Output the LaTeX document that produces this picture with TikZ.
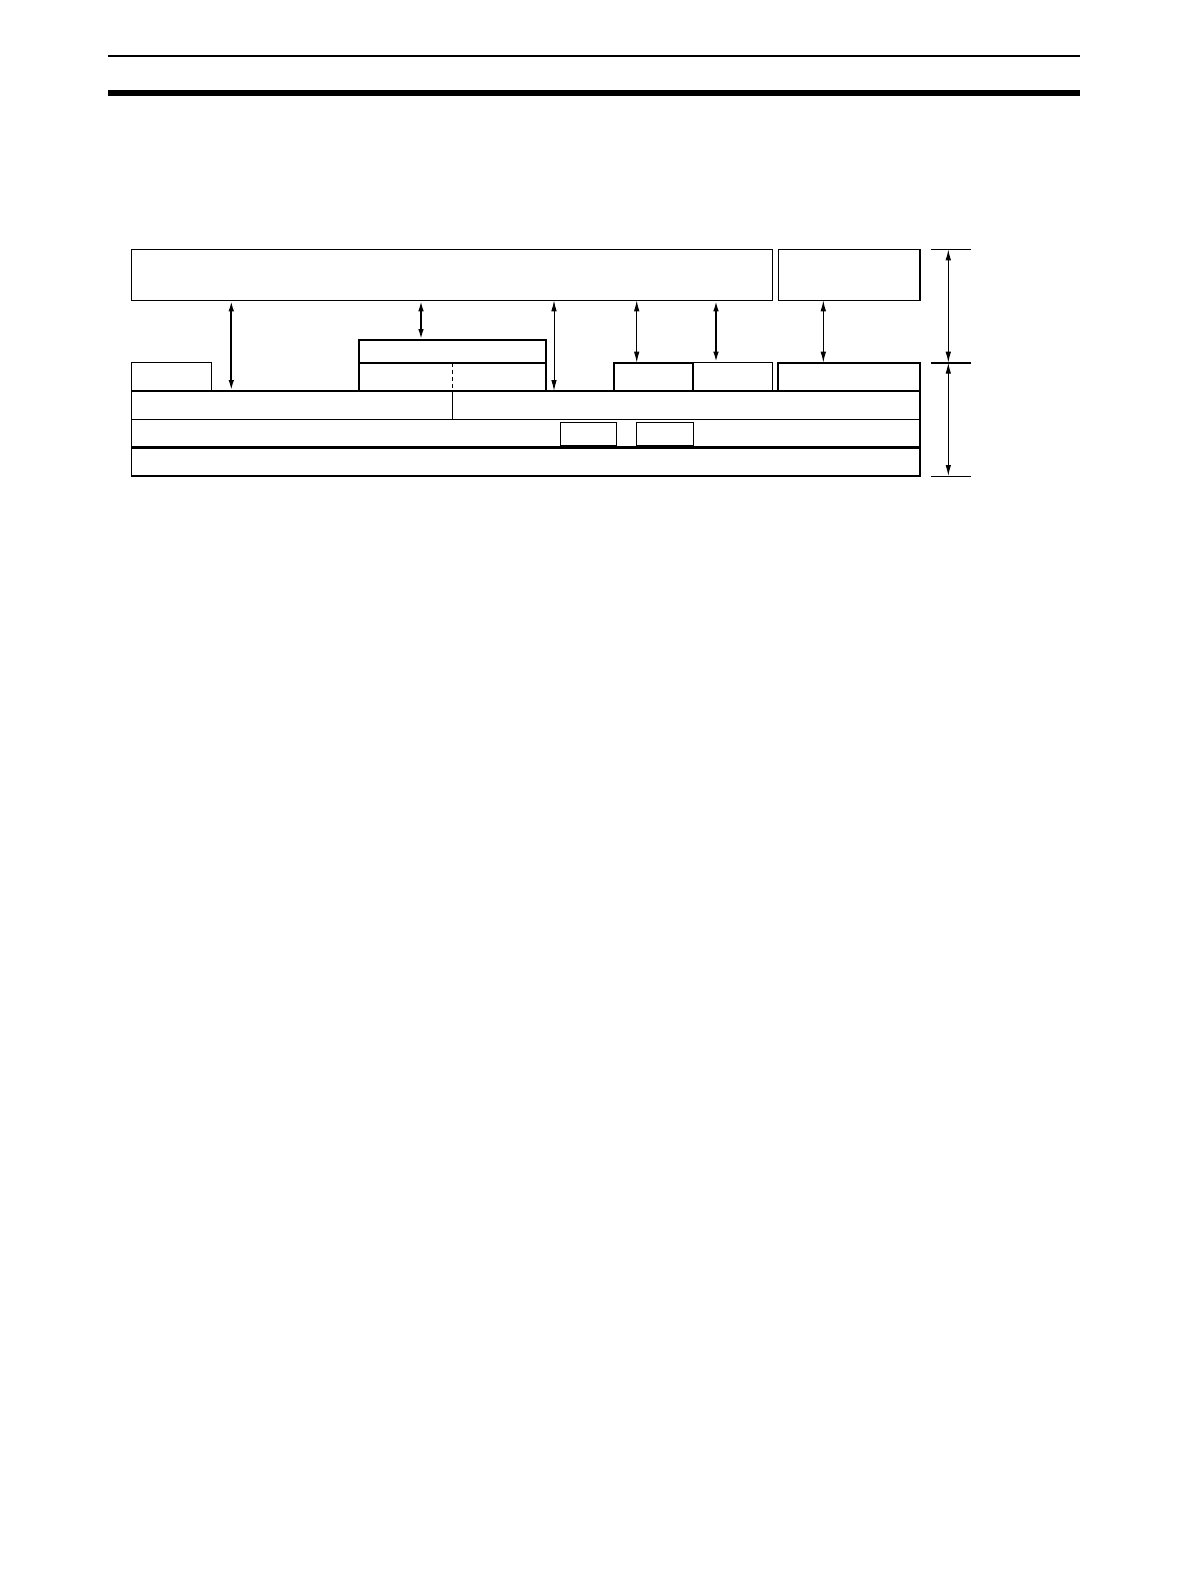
\documentclass[tikz,border=0pt]{standalone}
\usetikzlibrary{arrows.meta}

\tikzset{
	blk/.style={draw, line width=1.5pt, inner sep=0pt, outer sep=0pt, anchor=north west},
	dbl/.style={{Latex[length=11pt,width=5.5pt]}-{Latex[length=11pt,width=5.5pt]}, line width=1pt},
	dblthick/.style={dbl, line width=2pt}
}

\begin{document}
\begin{tikzpicture}[x=1pt, y=-1pt]
			%%%%% START %%%%%
			\useasboundingbox (0, 0) rectangle (1190, 1586);
			
			% page header rules
			\draw[line width=2pt] (107.7, 55.7) -- (1080, 55.7);
			\fill[black] (107.7, 90) rectangle (1080, 96);
			
			% upper blocks
			\node[blk, minimum width=640.6pt, minimum height=51pt] (host) at (131.7, 249.3) {};
			\node[blk, minimum width=141.7pt, minimum height=51pt] (aux) at (778.3, 249.3) {};
			
			% lower blocks
			\node[blk, line width=1.2pt, minimum width=79.6pt, minimum height=28.3pt] (tiny) at (131.7, 362.7) {};
			\node[blk, line width=2pt, minimum width=187.3pt, minimum height=22.7pt] (midtop) at (358.7, 340) {};
			\node[blk, line width=2pt, minimum width=187.3pt, minimum height=28.3pt] (midlow) at (358.7, 362.7) {};
			\node[blk, line width=2pt, minimum width=79.6pt, minimum height=28.3pt] (portA) at (613.7, 362.7) {};
			\node[blk, line width=1pt, minimum width=79pt, minimum height=28.3pt] (portB) at (693.3, 362.7) {};
			\node[blk, line width=2pt, minimum width=141.7pt, minimum height=28.3pt] (portC) at (778.3, 362.7) {};
			
			\node[blk, line width=1.2pt, minimum width=788.3pt, minimum height=28.3pt] (row1) at (131.7, 391) {};
			\node[blk, line width=1.2pt, minimum width=788.3pt, minimum height=28.4pt] (row2) at (131.7, 419.3) {};
			\node[blk, line width=1.5pt, minimum width=788.3pt, minimum height=28.3pt] (row3) at (131.7, 447.7) {};
			\draw[line width=2.5pt] (row3.north west) -- (row3.north east);
			
			\node[blk, line width=1pt, minimum width=56pt, minimum height=23pt] (slotA) at (560.3, 422.3) {};
			\node[blk, line width=1pt, minimum width=57pt, minimum height=23pt] (slotB) at (636.3, 422.3) {};
			
			% dividers
			\coordinate (split) at (452.3, 0);
			\draw[line width=1pt, dashed, dash pattern=on 4pt off 3pt] (midlow.north -| split) -- (midlow.south -| split);
			\draw[line width=1.2pt] (row1.north -| split) -- (row1.south -| split);
			
			% arrows between blocks
			\coordinate (c1) at (231.3, 0);
			\coordinate (c2) at (421, 0);
			\coordinate (c3) at (554, 0);
			\coordinate (c4) at (636.7, 0);
			\coordinate (c5) at (716, 0);
			\coordinate (c6) at (823.3, 0);
			\draw[dblthick] (host.south -| c1) -- (row1.north -| c1);
			\draw[dblthick] (host.south -| c2) -- (midtop.north -| c2);
			\draw[dbl] (host.south -| c3) -- (row1.north -| c3);
			\draw[dbl] (host.south -| c4) -- (portA.north -| c4);
			\draw[dblthick] (host.south -| c5) -- (portB.north -| c5);
			\draw[dbl] (aux.south -| c6) -- (portC.north -| c6);
			
			% dimension on the right
			\coordinate (dtop) at (948.3, 249.3);
			\coordinate (dmid) at (948.3, 362.7);
			\coordinate (dbot) at (948.3, 476);
			\draw[line width=1pt] ([xshift=-17.3pt]dtop) -- ([xshift=22.7pt]dtop);
			\draw[line width=2pt] ([xshift=-17.3pt]dmid) -- ([xshift=22.7pt]dmid);
			\draw[line width=1pt] ([xshift=-17.3pt]dbot) -- ([xshift=22.7pt]dbot);
			\draw[dbl] (dtop) -- (dmid);
			\draw[dbl] (dmid) -- (dbot);
			
			%%%%% END %%%%%
		\end{tikzpicture}
\end{document}
